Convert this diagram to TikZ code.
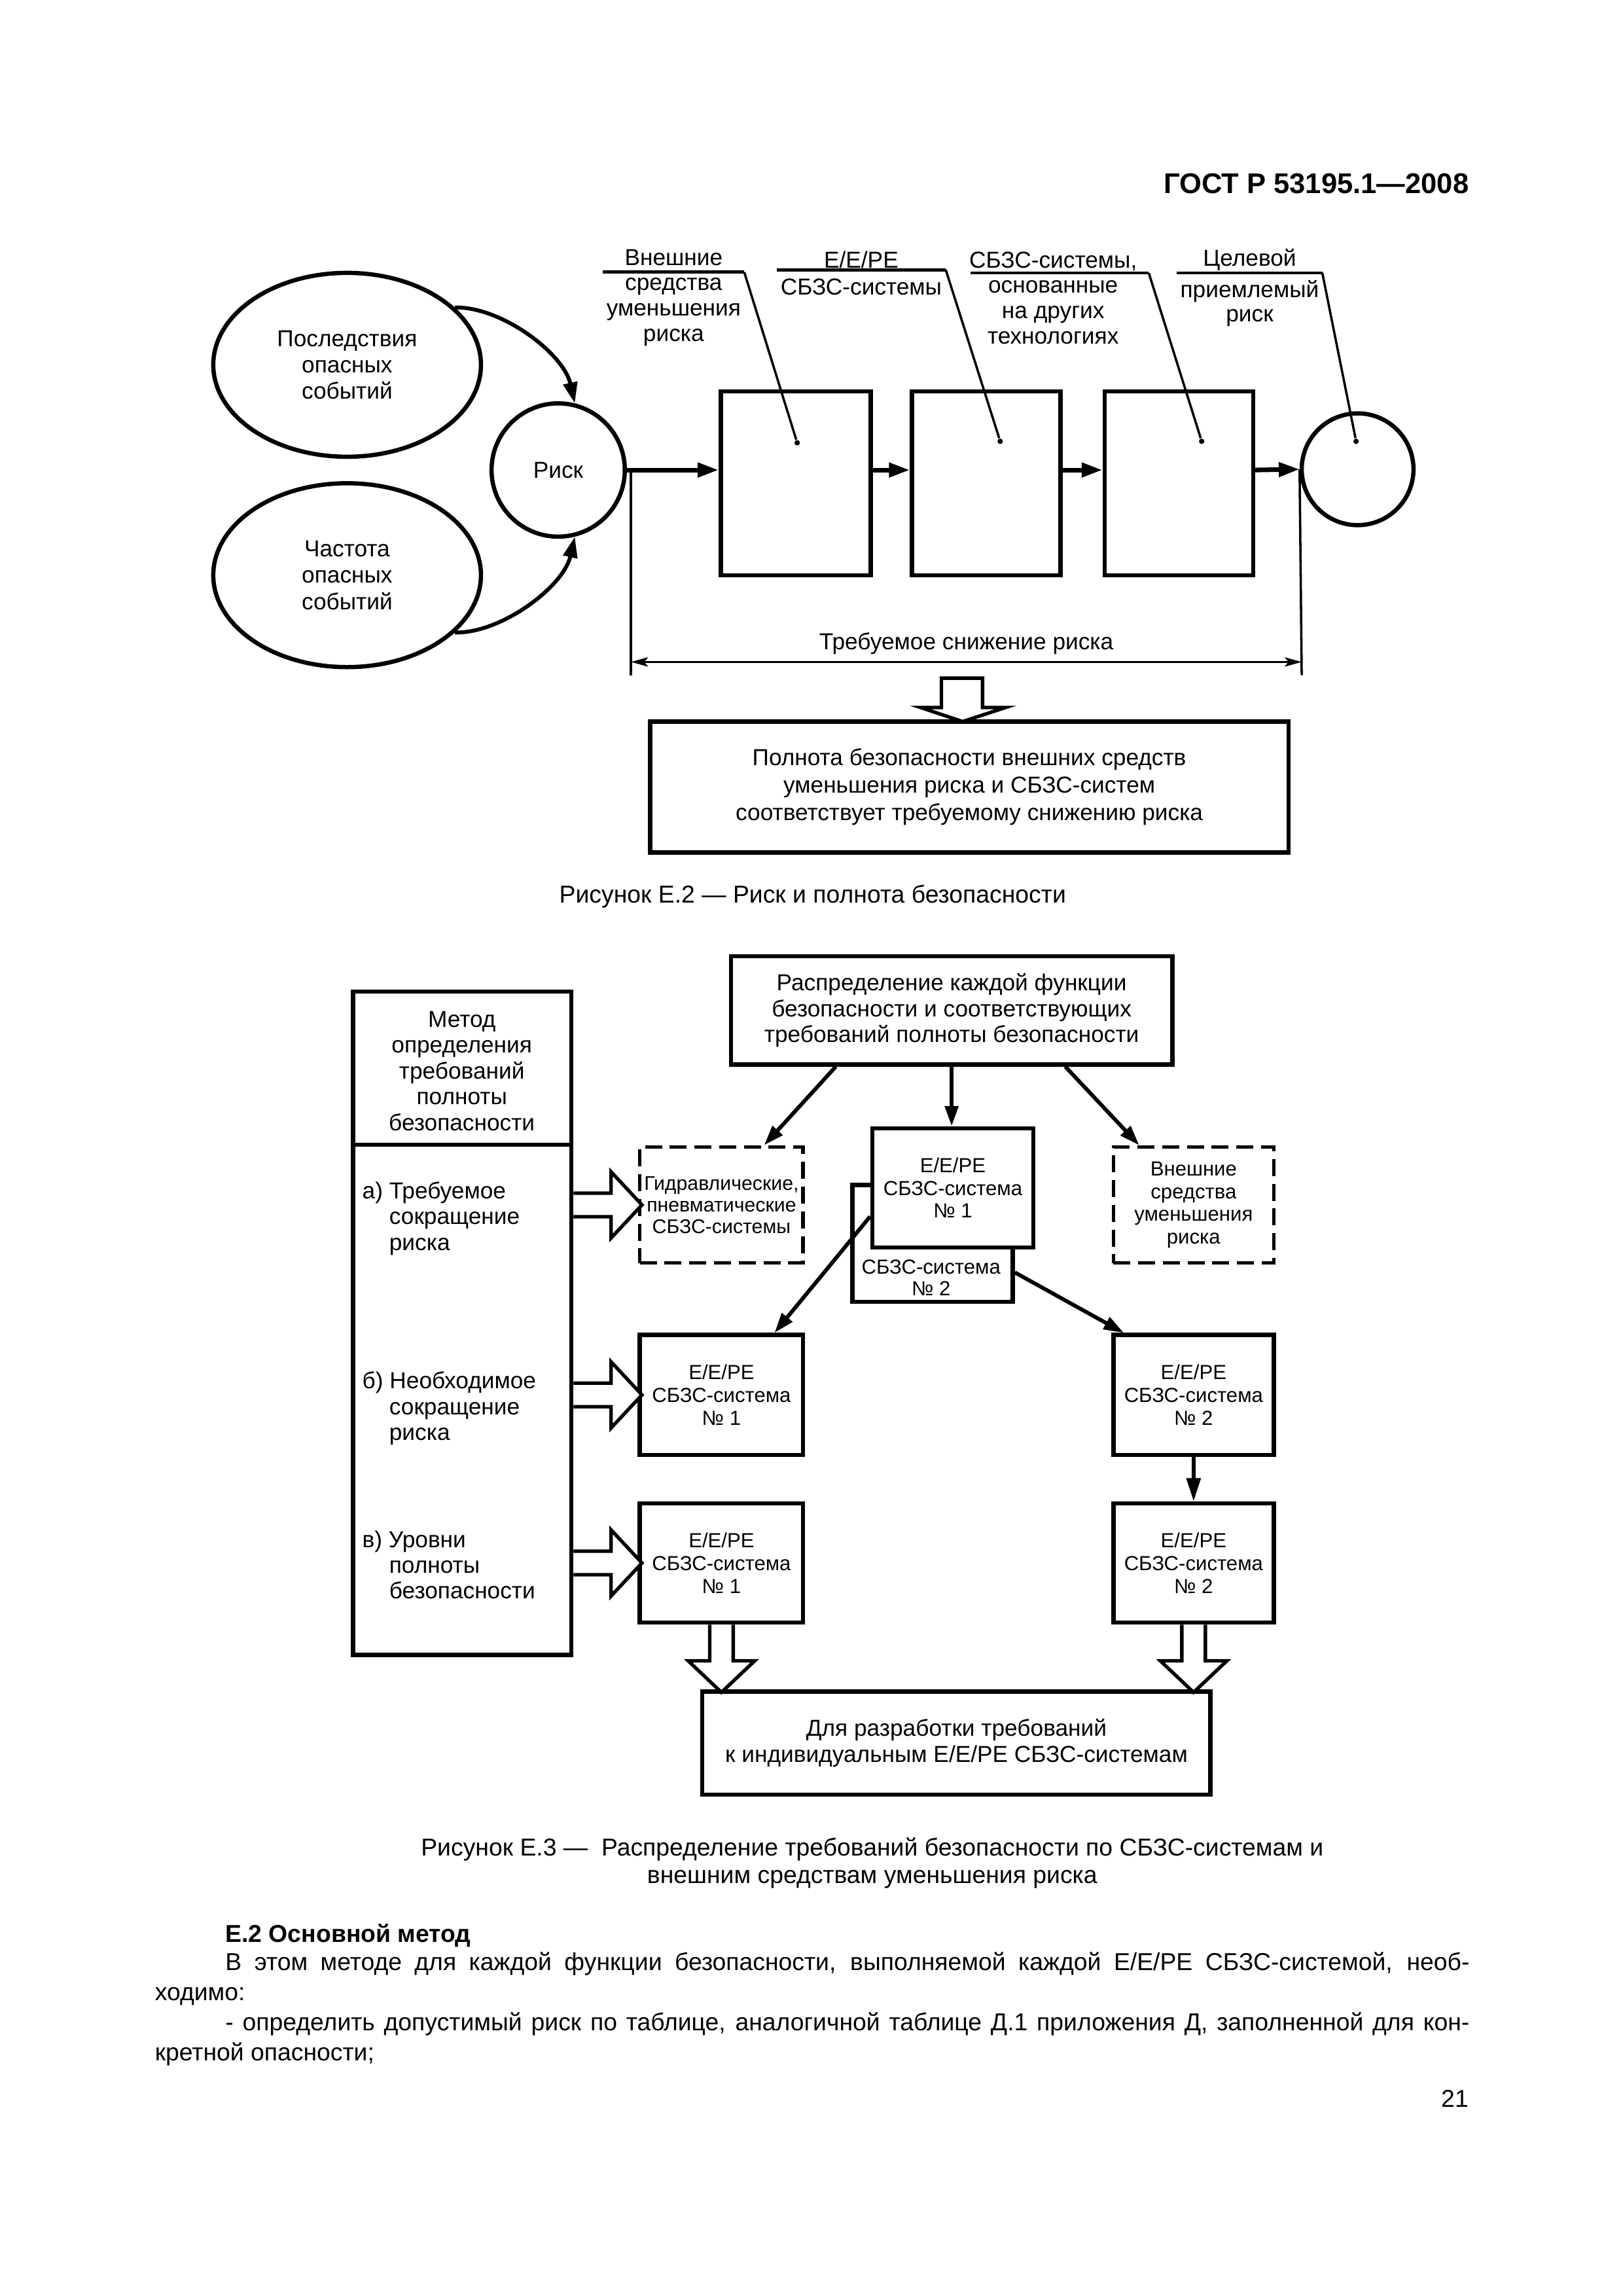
\documentclass[tikz,border=0pt]{standalone}
\usepackage{fontspec}
\setmainfont{Liberation Sans}
\usetikzlibrary{arrows.meta,shapes.geometric,calc}
\newdimen\ux
\ux=0.19039mm
\begin{document}
\begin{tikzpicture}[x=0.19039mm,y=-0.19039mm,
  box/.style={draw,line width=0.55mm,fill=white,inner sep=0pt,align=center},
  dbox/.style={draw,line width=0.45mm,dash pattern=on 2.2mm off 1mm,fill=white,inner sep=0pt,align=center},
  txt/.style={inner sep=0pt,align=center},
  fL/.style={font=\fontsize{8.5}{9.3}\selectfont},
  fA/.style={font=\fontsize{8.5}{9.5}\selectfont},
  fB/.style={font=\fontsize{7.5}{8.3}\selectfont},
  fCap/.style={font=\fontsize{9}{10.3}\selectfont},
  fBody/.style={font=\fontsize{9}{11}\selectfont},
  ell/.style={ellipse,draw,line width=0.55mm,inner sep=0pt,minimum width=182\ux,minimum height=125\ux,align=center,font=\fontsize{8.5}{9.7}\selectfont},
  arrEa/.style={line width=0.6mm,-{Triangle[length=2.7mm,width=1.8mm]}},
  carr/.style={line width=0.5mm,-{Triangle[length=2.7mm,width=1.8mm]}},
  arrEb/.style={line width=0.5mm,-{Triangle[length=2.6mm,width=1.7mm]}},
  ulln/.style={line width=0.4mm},
  leadln/.style={line width=0.3mm},
  dimln/.style={line width=0.3mm},
  hollow/.style={line width=0.45mm,line join=miter,fill=white},
  dotn/.style={circle,fill,inner sep=0pt,minimum size=0.7mm}]
\fill[white] (0,0) rectangle (1103,1560.84);
\useasboundingbox (0,0) rectangle (1103,1560.84);

% header
\node[anchor=base east,inner sep=0pt,font=\bfseries\fontsize{10.5}{12}\selectfont] (hdr) at (999,131.3) {ГОСТ Р 53195.1—2008};

% ---------------- Figure E.2 ----------------
\node[ell] (cons) at (236,248) {Последствия\\опасных\\событий};
\node[ell] (freq) at (236,391) {Частота\\опасных\\событий};
\node[circle,draw,line width=0.55mm,inner sep=0pt,minimum size=90.6\ux,fA] (risk) at (379.5,319.5) {Риск};
\node[box,minimum width=102\ux,minimum height=125\ux] (bA) at (541,328.5) {};
\node[box,minimum width=101\ux,minimum height=125\ux] (bB) at (670.5,328.5) {};
\node[box,minimum width=101\ux,minimum height=125\ux] (bC) at (801.5,328.5) {};
\node[circle,draw,line width=0.55mm,inner sep=0pt,minimum size=76\ux] (tgt) at (923,319) {};

\draw[carr] (cons.28.5) .. controls +(31.5,-0.7) and +(-7.7,-34) .. (risk.76);
\draw[carr] (freq.-28.5) .. controls +(31.5,0.7) and +(-7.7,34) .. (risk.-76);

\draw[arrEa] (risk.east) -- (bA.west |- risk.east);
\draw[arrEa] (bA.east |- risk.east) -- (bB.west |- risk.east);
\draw[arrEa] (bB.east |- risk.east) -- (bC.west |- risk.east);
\draw[arrEa] (bC.east |- risk.east) -- (tgt.west);

\node[dotn] (dA) at (542,301) {};
\node[dotn] (dB) at (680,300) {};
\node[dotn] (dC) at (817,300) {};
\node[dotn] (dD) at (922,300) {};

\node[txt,fL] (lA) at (458,202.3) {Внешние\\средства\\уменьшения\\риска};
\coordinate (uA1) at (410,185);
\coordinate (uA2) at (506,185);
\draw[ulln] (uA1) -- (uA2);
\draw[leadln] (uA2) -- (dA);

\node[txt,font=\fontsize{8.5}{9.9}\selectfont] (lB) at (585.5,185.8) {Е/Е/PE\\СБЗС-системы};
\coordinate (uB1) at (528,183.4);
\coordinate (uB2) at (643,183.4);
\draw[ulln] (uB1) -- (uB2);
\draw[leadln] (uB2) -- (dB);

\node[txt,fL] (lC) at (716,202.5) {СБЗС-системы,\\основанные\\на других\\технологиях};
\coordinate (uC1) at (660,185.5);
\coordinate (uC2) at (781,185.5);
\draw[ulln] (uC1) -- (uC2);
\draw[leadln] (uC2) -- (dC);

\node[txt,fL] (lD1) at (849.6,176.6) {Целевой};
\node[txt,font=\fontsize{8.5}{8.9}\selectfont] (lD2) at (849.6,206.2) {приемлемый\\риск};
\coordinate (uD1) at (800,185.5);
\coordinate (uD2) at (899,185.5);
\draw[ulln] (uD1) -- (uD2);
\draw[leadln] (uD2) -- (dD);

% required risk reduction dimension
\coordinate (vL0) at (429,319.5);
\coordinate (vL1) at (429,459);
\coordinate (vR1) at (885,459);
\draw[dimln] (vL0) -- (vL1);
\draw[dimln] (tgt.west) -- (vR1);
\coordinate (dmA) at (429,450);
\coordinate (dmB) at (885,450);
\draw[dimln,{Stealth[length=2.2mm,width=1.2mm,inset=0.5mm]}-{Stealth[length=2.2mm,width=1.2mm,inset=0.5mm]}] (dmA) -- (dmB);
\node[txt,fL] (trq) at (657,437.5) {Требуемое снижение риска};

\node[box,minimum width=434\ux,minimum height=89\ux,font=\fontsize{8.5}{10.1}\selectfont] (pol) at (659,535) {Полнота безопасности внешних средств\\уменьшения риска и СБЗС-систем\\соответствует требуемому снижению риска};
\draw[hollow] (640,461) -- (668,461) -- (668,481) -- (683.5,481) -- (654.5,490.5) -- (626,481) -- (640,481) -- cycle;

\node[txt,fCap] (capA) at (552.5,609.5) {Рисунок Е.2 — Риск и полнота безопасности};

% ---------------- Figure E.3 ----------------
\node[box,minimum width=300\ux,minimum height=73.6\ux,fA] (dist) at (647,686.8) {Распределение каждой функции\\безопасности и соответствующих\\требований полноты безопасности};

\node[box,minimum width=148.5\ux,minimum height=451\ux] (meth) at (314.25,899.5) {};
\draw[line width=0.55mm] ($(meth.north west)+(0,105.7)$) -- ($(meth.north east)+(0,105.7)$);
\node[txt,fA] (methT) at (314,728) {Метод\\определения\\требований\\полноты\\безопасности};
\node[txt,fA,align=left,anchor=west] (ta) at (246,828.3) {а) Требуемое\\\hphantom{а) }сокращение\\\hphantom{а) }риска};
\node[txt,fA,align=left,anchor=west] (tb) at (246,957.5) {б) Необходимое\\\hphantom{а) }сокращение\\\hphantom{а) }риска};
\node[txt,fA,align=left,anchor=west] (tc) at (246,1063.8) {в) Уровни\\\hphantom{а) }полноты\\\hphantom{а) }безопасности};

\node[dbox,minimum width=111\ux,minimum height=78.8\ux,font=\fontsize{7.3}{8}\selectfont] (hyd) at (490.5,819.1) {Гидравлические,\\пневматические\\СБЗС-системы};
\node[dbox,minimum width=109\ux,minimum height=78.8\ux,font=\fontsize{7.5}{8.4}\selectfont] (ext) at (811.5,819.1) {Внешние\\средства\\уменьшения\\риска};

\node[box,minimum width=109\ux,minimum height=79.4\ux] (sTwo) at (634,845.3) {};
\node[txt,font=\fontsize{7.5}{7.8}\selectfont] (sTwoT) at (633,868.5) {СБЗС-система\\№ 2};
\node[box,minimum width=109.6\ux,minimum height=81\ux,fB] (sOne) at (647.8,807.5) {Е/Е/PE\\СБЗС-система\\№ 1};

\node[box,minimum width=111\ux,minimum height=81.5\ux,font=\fontsize{7.5}{8.4}\selectfont] (bL) at (490.5,948.25) {Е/Е/PE\\СБЗС-система\\№ 1};
\node[box,minimum width=109\ux,minimum height=81.5\ux,font=\fontsize{7.5}{8.4}\selectfont] (bR) at (811.5,948.25) {Е/Е/PE\\СБЗС-система\\№ 2};
\node[box,minimum width=111\ux,minimum height=81\ux,font=\fontsize{7.5}{8.4}\selectfont] (cL) at (490.5,1062.5) {Е/Е/PE\\СБЗС-система\\№ 1};
\node[box,minimum width=109\ux,minimum height=81\ux,font=\fontsize{7.5}{8.4}\selectfont] (cR) at (811.5,1062.5) {Е/Е/PE\\СБЗС-система\\№ 2};

\node[box,minimum width=345.5\ux,minimum height=70\ux,font=\fontsize{8.5}{9.7}\selectfont] (fin) at (650.25,1185) {Для разработки требований\\к индивидуальным Е/Е/PE СБЗС-системам};

\draw[arrEb] ($(dist.south west)+(72.7,0)$) -- ($(hyd.north west)+(85.7,0)$);
\draw[arrEb] (dist.south) -- (dist.south |- sOne.north);
\draw[arrEb] ($(dist.south east)+(-74.2,0)$) -- ($(ext.north west)+(18.7,0)$);
\draw[arrEb] ($(sOne.west)+(0,19.5)$) -- ($(bL.north west)+(93,0)$);
\draw[arrEb] ($(sTwo.east)+(0,19.7)$) -- ($(bR.north west)+(8.5,0)$);
\draw[line width=0.45mm,-{Triangle[length=3mm,width=1.8mm]}] (bR.south) -- (cR.north);

% hollow arrows from method box
\draw[hollow] (meth.east |- hyd.west) ++(0,-8) -- ++(25.5,0) -- ++(0,-14.5) -- ++(21,22.5) -- ++(-21,22.5) -- ++(0,-14.5) -- ++(-25.5,0);
\draw[hollow] (meth.east |- bL.west) ++(0,-8) -- ++(25.5,0) -- ++(0,-14.5) -- ++(21,22.5) -- ++(-21,22.5) -- ++(0,-14.5) -- ++(-25.5,0);
\draw[hollow] (meth.east |- cL.west) ++(0,-8) -- ++(25.5,0) -- ++(0,-14.5) -- ++(21,22.5) -- ++(-21,22.5) -- ++(0,-14.5) -- ++(-25.5,0);
% hollow arrows down to final box
\draw[hollow] (cL.south) ++(-8,0) -- ++(0,24.6) -- ++(-14.6,0) -- ++(22.6,21.4) -- ++(22.6,-21.4) -- ++(-14.6,0) -- ++(0,-24.6);
\draw[hollow] (cR.south) ++(-8,0) -- ++(0,24.6) -- ++(-14.6,0) -- ++(22.6,21.4) -- ++(22.6,-21.4) -- ++(-14.6,0) -- ++(0,-24.6);

\node[txt,fCap] (capB) at (593,1266.5) {Рисунок Е.3 —\ \ Распределение требований безопасности по СБЗС-системам и\\внешним средствам уменьшения риска};

% ---------------- body text ----------------
\node[anchor=base west,inner sep=0pt,font=\bfseries\fontsize{9}{11}\selectfont] (hE) at (152.9,1320.5) {Е.2 Основной метод};
\node[anchor=base west,inner sep=0pt,fBody] (pA) at (152.9,1339.5) {\makebox[845.8\ux][s]{В этом методе для каждой функции безопасности, выполняемой каждой Е/Е/PE СБЗС-системой, необ-}};
\node[anchor=base west,inner sep=0pt,fBody] (pB) at (105,1360) {ходимо:};
\node[anchor=base west,inner sep=0pt,fBody] (pC) at (152.9,1380.5) {\makebox[845.8\ux][s]{- определить допустимый риск по таблице, аналогичной таблице Д.1 приложения Д, заполненной для кон-}};
\node[anchor=base west,inner sep=0pt,fBody] (pD) at (105,1401) {кретной опасности;};
\node[anchor=base east,inner sep=0pt,fBody] (pg) at (998.7,1432.6) {21};
\end{tikzpicture}
\end{document}
